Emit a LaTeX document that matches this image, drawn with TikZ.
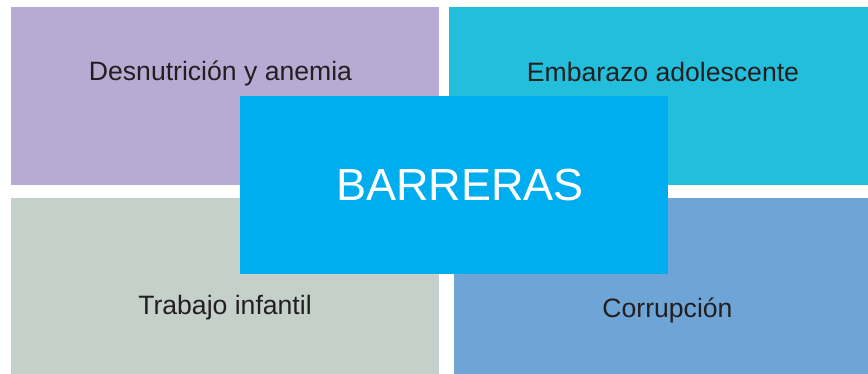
\documentclass[tikz,border=0pt]{standalone}
\usepackage{fontspec}
\setmainfont{Liberation Sans}
\definecolor{cpurple}{HTML}{B7ABD3}
\definecolor{cteal}{HTML}{22BEDC}
\definecolor{cgrey}{HTML}{C5D0CB}
\definecolor{cblue}{HTML}{6FA4D7}
\definecolor{ccenter}{HTML}{00AEEF}
\definecolor{ctext}{HTML}{231F20}
\begin{document}
\begin{tikzpicture}[x=1pt,y=-1pt,
  box/.style={fill=#1,draw=none},
  lbl/.style={anchor=base,inner sep=0pt,text=ctext,font=\fontsize{26.6}{30}\selectfont},
  big/.style={anchor=base,inner sep=0pt,text=white,font=\fontsize{45}{50}\selectfont}]
\fill[white] (0,0) rectangle (868,374);
\useasboundingbox (0,0) rectangle (868,374);
\path[box=cpurple] (11,7) rectangle (439,185);
\path[box=cteal] (449,7) rectangle (868,185);
\path[box=cgrey] (11,198) rectangle (439,374);
\path[box=cblue] (454,198) rectangle (868,374);
\node[lbl] (t1) at (220.5,80.5) {Desnutrición y anemia};
\node[lbl] (t2) at (663,82) {Embarazo adolescente};
\node[lbl] (t3) at (225,314.3) {Trabajo infantil};
\node[lbl] (t4) at (667.5,317.7) {Corrupción};
\path[box=ccenter] (240,96) rectangle (668,274);
\node[big] (c) at (460,201) {BARRERAS};
\end{tikzpicture}
\end{document}
